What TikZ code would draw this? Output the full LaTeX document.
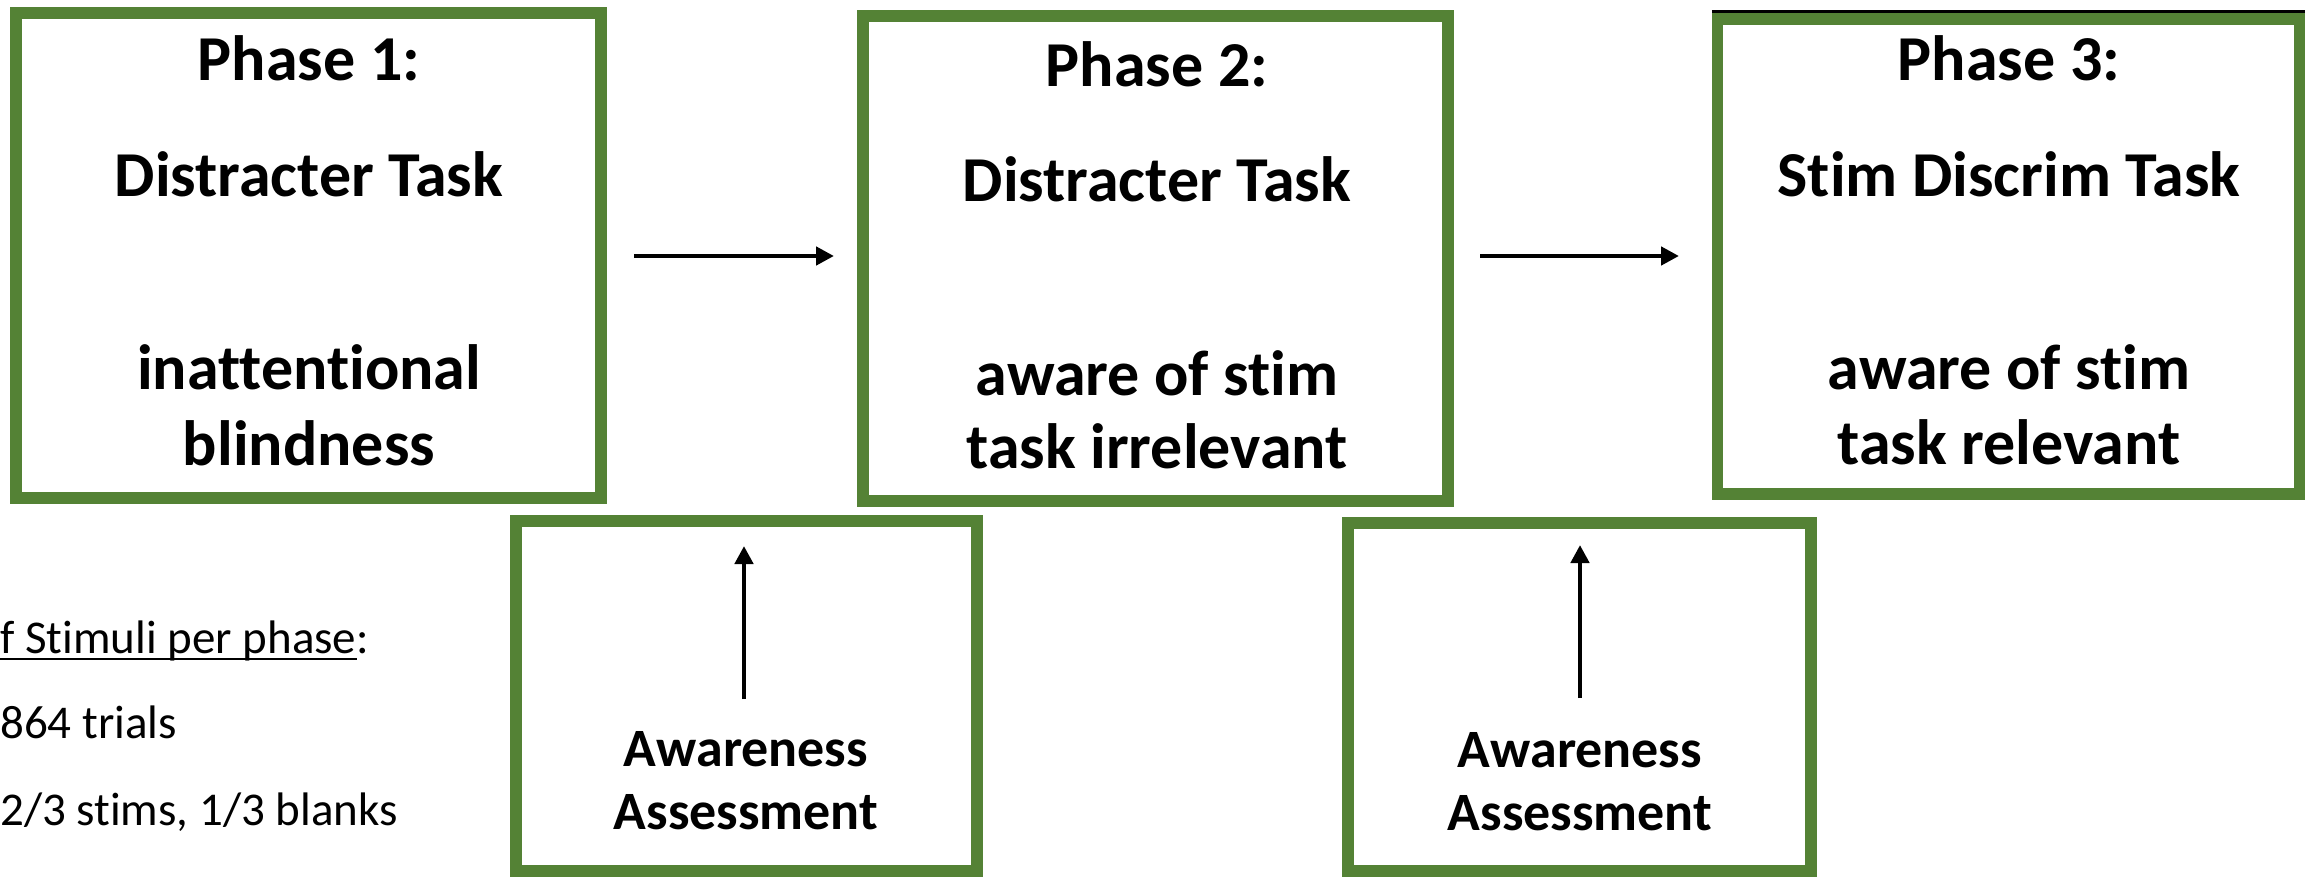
\documentclass[tikz,border=0pt]{standalone}
\usepackage{fontspec}
\setmainfont{Carlito}[Ligatures={NoCommon,NoContextual}]
\usetikzlibrary{arrows.meta}
\definecolor{boxgreen}{RGB}{84,130,53}
\begin{document}
\begin{tikzpicture}[x=1pt,y=-1pt,
  phasebox/.style={draw=boxgreen,line width=11.5pt,rectangle,inner sep=0pt,fill=white},
  boxtext/.style={anchor=base,inner sep=0pt,font=\fontsize{64}{76}\selectfont\bfseries},
  awtext/.style={anchor=base,inner sep=0pt,font=\fontsize{54}{64}\selectfont\bfseries},
  sidetext/.style={anchor=base west,inner sep=0pt,font=\fontsize{47}{56}\selectfont},
  flow/.style={draw=black,line width=4.5pt,-{Triangle[length=18pt,width=18pt]}}
]
\useasboundingbox (0,0) rectangle (2310,877);
\fill[white] (0,0) rectangle (2310,877);

% phase boxes
\node[phasebox,minimum width=585pt,minimum height=485pt] (b1) at (308.5,255.5) {};
\node[phasebox,minimum width=585pt,minimum height=485pt] (b2) at (1155.5,258.5) {};
\node[phasebox,minimum width=582pt,minimum height=475pt] (b3) at (2008.5,256.5) {};
\draw[line width=3pt] (b3.north west) ++(0,-1.5) coordinate (t3a) -- (t3a -| b3.north east);

% awareness boxes
\node[phasebox,minimum width=461pt,minimum height=350pt] (a1) at (746.5,696) {};
\node[phasebox,minimum width=463pt,minimum height=348pt] (a2) at (1579.5,697) {};

% texts in phase boxes
\node[boxtext] (p1) at (309,81) {Phase 1:};
\node[boxtext] (d1) at (309,197) {Distracter Task};
\node[boxtext] (i1) at (309,389) {inattentional};
\node[boxtext] (i1b) at (309,465) {blindness};

\node[boxtext] (p2) at (1157,87) {Phase 2:};
\node[boxtext] (d2) at (1157,202) {Distracter Task};
\node[boxtext] (w2) at (1157,395) {aware of stim};
\node[boxtext] (w2b) at (1157,468) {task irrelevant};

\node[boxtext] (p3) at (2009,81) {Phase 3:};
\node[boxtext] (d3) at (2009,197) {Stim Discrim Task};
\node[boxtext] (w3) at (2009,389) {aware of stim};
\node[boxtext] (w3b) at (2009,464) {task relevant};

% awareness texts
\node[awtext] (aw1) at (746,766) {Awareness};
\node[awtext] (as1) at (746,829) {Assessment};
\node[awtext] (aw2) at (1580,767) {Awareness};
\node[awtext] (as2) at (1580,830) {Assessment};

% arrows
\coordinate (h1s) at (634,256);
\coordinate (h1e) at (834,256);
\coordinate (h2s) at (1480,256);
\coordinate (h2e) at (1679,256);
\draw[flow] (h1s) -- (h1e);
\draw[flow] (h2s) -- (h2e);
\coordinate (v1s) at (744,699);
\coordinate (v1e) at (744,546);
\coordinate (v2s) at (1580,698);
\coordinate (v2e) at (1580,545);
\draw[flow] (v1s) -- (v1e);
\draw[flow] (v2s) -- (v2e);

% side text
\node[sidetext] (st) at (0,653) {f Stimuli per phase};
\node[sidetext,anchor=base west] (stc) at (st.base east) {:};
\draw[line width=2.2pt] ([yshift=-6pt]st.base west) -- ([yshift=-6pt]st.base east);
\node[sidetext] (tr) at (0,738) {864 trials};
\node[sidetext] (bl) at (0,825) {2/3 stims, 1/3 blanks};
\end{tikzpicture}
\end{document}
